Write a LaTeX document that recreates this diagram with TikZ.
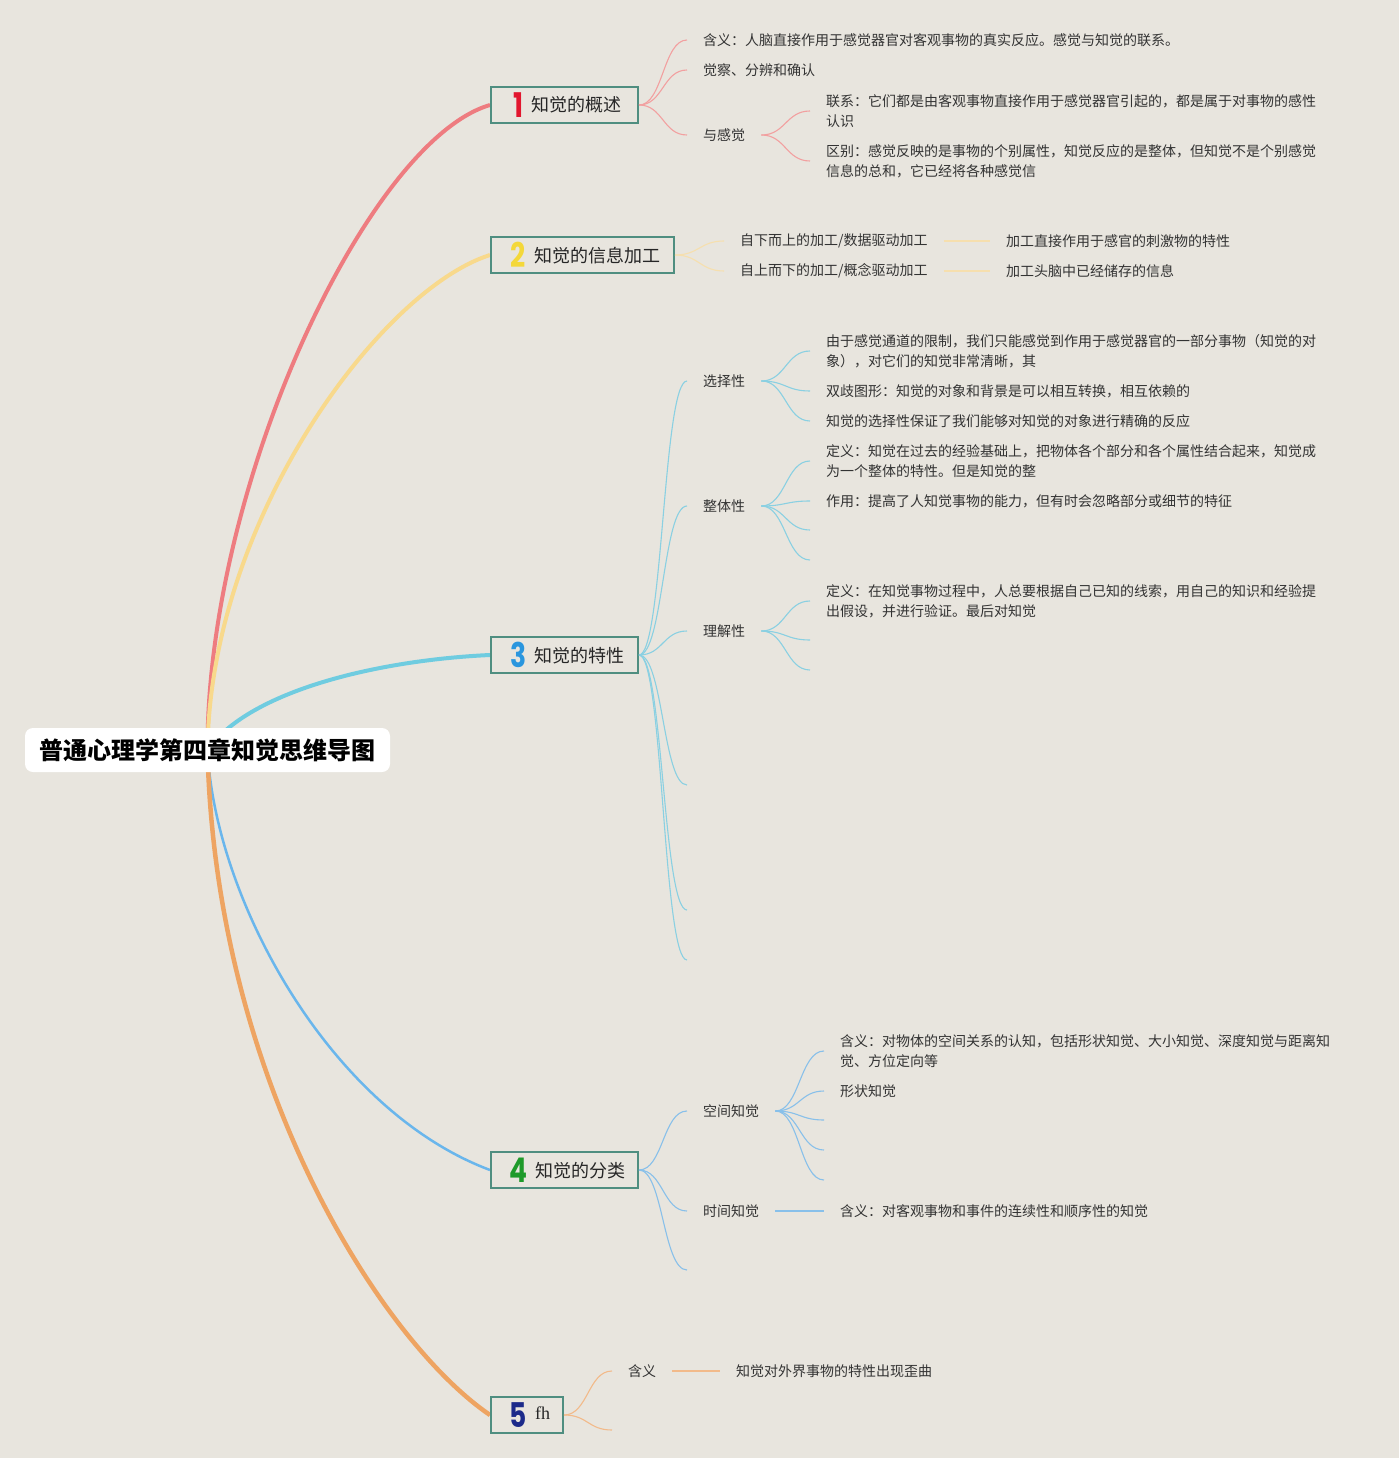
\documentclass[tikz,border=0pt]{standalone}
\usepackage{fontspec}
\usepackage{graphicx}
\setmainfont{Noto Sans CJK SC}
\newfontfamily\numfont{Poppins}
\newfontfamily\serfont{Liberation Serif}
\definecolor{bgc}{HTML}{E8E5DE}
\definecolor{redL}{HTML}{EE7C80}
\definecolor{redT}{HTML}{F2A0A0}
\definecolor{yelL}{HTML}{F8D98C}
\definecolor{yelT}{HTML}{F6DFAE}
\definecolor{cyaL}{HTML}{6FCCE0}
\definecolor{cyaT}{HTML}{8AD0E2}
\definecolor{bluL}{HTML}{6AB6EC}
\definecolor{bluT}{HTML}{88C0EA}
\definecolor{orgL}{HTML}{EEA462}
\definecolor{orgT}{HTML}{F2BA8A}
\definecolor{frame}{HTML}{4F8E80}
\definecolor{num1}{HTML}{E2162E}
\definecolor{num2}{HTML}{F4D83A}
\definecolor{num3}{HTML}{2A96DE}
\definecolor{num4}{HTML}{1E9A2A}
\definecolor{num5}{HTML}{1C2A8A}
\pgfdeclarelayer{back}
\pgfsetlayers{back,main}
\newcommand\numlab[2]{\hspace*{6pt}\raisebox{-5.5pt}{\smash{\color{#1}\numfont\bfseries\fontsize{34}{34}\selectfont\scalebox{0.78}[1]{#2}}}\hspace{8pt}}
\begin{document}
\begin{tikzpicture}[x=1pt,y=-1pt,
  rootbox/.style={fill=white, rounded corners=8pt, minimum width=365pt, minimum height=44pt, inner sep=0pt, font=\fontsize{24}{28}\selectfont\bfseries, text=black},
  mainbox/.style={draw=frame, line width=2pt, fill=bgc, minimum height=36pt, inner sep=0pt, text height=16pt, text depth=2pt, font=\fontsize{18}{22}\selectfont, text=black!85},
  leaf/.style={anchor=west, inner xsep=16pt, inner ysep=0pt, font=\fontsize{14}{20}\selectfont, text=black!80, align=left},
  cR/.style={draw=redT, line width=1.1pt},
  cY/.style={draw=yelT, line width=1.1pt},
  cC/.style={draw=cyaT, line width=1.1pt},
  cB/.style={draw=bluT, line width=1.1pt},
  cO/.style={draw=orgT, line width=1.1pt}
]
\begin{pgfonlayer}{back}
\fill[bgc] (0,0) rectangle (1399,1458);
\end{pgfonlayer}
\useasboundingbox (0,0) rectangle (1399,1458);

% root and main nodes
\node[rootbox] (root) at (207.5,750) {普通心理学第四章知觉思维导图};
\node[mainbox, minimum width=147pt] (n1) at (564.5,105) {\numlab{num1}{1}知觉的概述};
\node[mainbox, minimum width=183pt] (n2) at (582.5,255) {\numlab{num2}{2}知觉的信息加工};
\node[mainbox, minimum width=147pt] (n3) at (564.5,655) {\numlab{num3}{3}知觉的特性};
\node[mainbox, minimum width=147pt] (n4) at (564.5,1170) {\numlab{num4}{4}知觉的分类};
\node[mainbox, minimum width=72pt] (n5) at (527,1415) {\numlab{num5}{5}\raisebox{3pt}{\serfont fh}};

% main branches
\begin{pgfonlayer}{back}
\draw[redL, line width=4pt] (root.center) .. controls (207,480) and (370,140) .. (n1.west);
\draw[yelL, line width=4pt] (root.center) .. controls (210,520) and (380,290) .. (n2.west);
\draw[cyaL, line width=4pt] (root.center) .. controls (250,690) and (380,660) .. (n3.west);
\draw[bluL, line width=2.5pt] (root.center) .. controls (215,900) and (330,1110) .. (n4.west);
\draw[orgL, line width=4.5pt] (root.center) .. controls (215,1080) and (380,1340) .. (n5.west);
\end{pgfonlayer}

% branch 1
\node[leaf] (t11) at (687,40) {含义：人脑直接作用于感觉器官对客观事物的真实反应。感觉与知觉的联系。};
\node[leaf] (t12) at (687,70) {觉察、分辨和确认};
\node[leaf] (t13) at (687,135) {与感觉};
\node[leaf] (t131) at (810,111) {联系：它们都是由客观事物直接作用于感觉器官引起的，都是属于对事物的感性\\认识};
\node[leaf] (t132) at (810,161) {区别：感觉反映的是事物的个别属性，知觉反应的是整体，但知觉不是个别感觉\\信息的总和，它已经将各种感觉信};
\foreach \t in {t11,t12,t13}
  \draw[cR] (n1.east) .. controls +(24,0) and +(-24,0) .. (\t.west);
\foreach \t in {t131,t132}
  \draw[cR] (t13.east) .. controls +(24,0) and +(-24,0) .. (\t.west);

% branch 2
\node[leaf] (t21) at (724,241) {自下而上的加工/数据驱动加工};
\node[leaf] (t22) at (724,271) {自上而下的加工/概念驱动加工};
\node[leaf] (t211) at (990,241) {加工直接作用于感官的刺激物的特性};
\node[leaf] (t221) at (990,271) {加工头脑中已经储存的信息};
\foreach \t in {t21,t22}
  \draw[cY] (n2.east) .. controls +(24,0) and +(-24,0) .. (\t.west);
\draw[yelT, line width=2pt] (t21.east) -- (t211.west);
\draw[yelT, line width=2pt] (t22.east) -- (t221.west);

% branch 3
\node[leaf] (t31) at (687,381) {选择性};
\node[leaf] (t32) at (687,506) {整体性};
\node[leaf] (t33) at (687,631) {理解性};
\coordinate (e34) at (687,785);
\coordinate (e35) at (687,910);
\coordinate (e36) at (687,960);
\node[leaf] (t311) at (810,351) {由于感觉通道的限制，我们只能感觉到作用于感觉器官的一部分事物（知觉的对\\象），对它们的知觉非常清晰，其};
\node[leaf] (t312) at (810,391) {双歧图形：知觉的对象和背景是可以相互转换，相互依赖的};
\node[leaf] (t313) at (810,421) {知觉的选择性保证了我们能够对知觉的对象进行精确的反应};
\node[leaf] (t321) at (810,461) {定义：知觉在过去的经验基础上，把物体各个部分和各个属性结合起来，知觉成\\为一个整体的特性。但是知觉的整};
\node[leaf] (t322) at (810,501) {作用：提高了人知觉事物的能力，但有时会忽略部分或细节的特征};
\coordinate (e323) at (810,530);
\coordinate (e324) at (810,560);
\node[leaf] (t331) at (810,601) {定义：在知觉事物过程中，人总要根据自己已知的线索，用自己的知识和经验提\\出假设，并进行验证。最后对知觉};
\coordinate (e332) at (810,640);
\coordinate (e333) at (810,670);
\foreach \t in {t31.west,t32.west,t33.west,e34,e35,e36}
  \draw[cC] (n3.east) .. controls +(24,0) and +(-24,0) .. (\t);
\foreach \t in {t311,t312,t313}
  \draw[cC] (t31.east) .. controls +(24,0) and +(-24,0) .. (\t.west);
\foreach \t in {t321.west,t322.west,e323,e324}
  \draw[cC] (t32.east) .. controls +(24,0) and +(-24,0) .. (\t);
\foreach \t in {t331.west,e332,e333}
  \draw[cC] (t33.east) .. controls +(24,0) and +(-24,0) .. (\t);

% branch 4
\node[leaf] (t41) at (687,1111) {空间知觉};
\node[leaf] (t42) at (687,1211) {时间知觉};
\coordinate (e43) at (687,1270);
\node[leaf] (t411) at (824,1051) {含义：对物体的空间关系的认知，包括形状知觉、大小知觉、深度知觉与距离知\\觉、方位定向等};
\node[leaf] (t412) at (824,1091) {形状知觉};
\coordinate (e413) at (824,1120);
\coordinate (e414) at (824,1150);
\coordinate (e415) at (824,1180);
\node[leaf] (t421) at (824,1211) {含义：对客观事物和事件的连续性和顺序性的知觉};
\foreach \t in {t41.west,t42.west,e43}
  \draw[cB] (n4.east) .. controls +(24,0) and +(-24,0) .. (\t);
\foreach \t in {t411.west,t412.west,e413,e414,e415}
  \draw[cB] (t41.east) .. controls +(24,0) and +(-24,0) .. (\t);
\draw[bluT, line width=2pt] (t42.east) -- (t421.west);

% branch 5
\node[leaf] (t51) at (612,1371) {含义};
\coordinate (e52) at (612,1430);
\node[leaf] (t511) at (720,1371) {知觉对外界事物的特性出现歪曲};
\foreach \t in {t51.west,e52}
  \draw[cO] (n5.east) .. controls +(24,0) and +(-24,0) .. (\t);
\draw[orgT, line width=2pt] (t51.east) -- (t511.west);
\end{tikzpicture}
\end{document}
